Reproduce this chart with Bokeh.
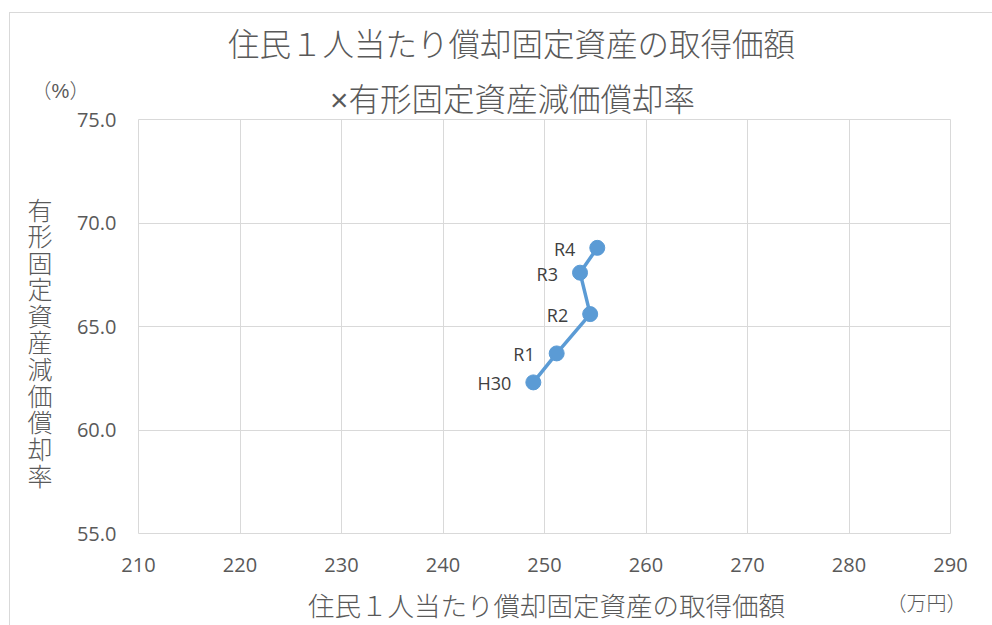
from bokeh.plotting import figure
from bokeh.models import (ColumnDataSource, Range1d, FixedTicker, PrintfTickFormatter,
                          LabelSet, Label, LinearAxis)
from bokeh.core.properties import value
from bokeh.embed import file_html
from bokeh.resources import INLINE

# ---- data ----
years = ["H30", "R1", "R2", "R3", "R4"]
asset_per_capita = [248.9, 251.2, 254.5, 253.5, 255.2]      # 万円
depreciation_rate = [62.3, 63.7, 65.6, 67.6, 68.8]           # %
x_ticks = [210, 220, 230, 240, 250, 260, 270, 280, 290]
y_ticks = [55, 60, 65, 70, 75]

title_line1 = "住民１人当たり償却固定資産の取得価額"
title_line2 = "×有形固定資産減価償却率"
x_title = "住民１人当たり償却固定資産の取得価額"
y_title = "有形固定資産減価償却率"
y_unit = "（%）"
x_unit = "（万円）"

JP = "Noto Sans CJK JP Light, Noto Sans CJK JP"
JPL = "Liberation Sans, Noto Sans CJK JP Light, Noto Sans CJK JP"   # compact line metrics
NUM = "Open Sans"
GRAY = "#595959"
GRID = "#d9d9d9"
BLUE = "#5B9BD5"

X0, X1, Y0, Y1 = 210, 290, 55, 75
FL, FT, FW, FH = 138, 119, 812, 414   # plot area placement on the page
W, H = 992, 625

def fx(px):
    return X0 + (px - FL) * (X1 - X0) / FW

def fy(py):
    return Y1 - (py - FT) * (Y1 - Y0) / FH

src = ColumnDataSource(dict(x=asset_per_capita, y=depreciation_rate, t=years))

p = figure(width=W, height=H, output_backend="svg", toolbar_location=None,
           x_range=Range1d(X0, X1), y_range=Range1d(Y0, Y1),
           min_border_left=FL, min_border_right=W - FL - FW,
           min_border_top=FT, min_border_bottom=H - FT - FH,
           background_fill_color="white", border_fill_color=None)
p.styles = {
    "background-color": "white",
    "background-image": "linear-gradient(#d9d9d9, #d9d9d9), linear-gradient(#d9d9d9, #d9d9d9)",
    "background-size": "100% 1px, 1px 100%",
    "background-position": "9px 12px, 9px 12px",
    "background-repeat": "no-repeat",
}
p.outline_line_color = GRID
p.outline_line_width = 1

p.xaxis.ticker = FixedTicker(ticks=x_ticks)
p.yaxis.ticker = FixedTicker(ticks=y_ticks)
p.xaxis.formatter = PrintfTickFormatter(format="%d")
p.yaxis.formatter = PrintfTickFormatter(format="%.1f")
for ax in (p.xaxis, p.yaxis):
    ax.axis_line_color = None
    ax.major_tick_line_color = None
    ax.minor_tick_line_color = None
    ax.major_tick_out = 0
    ax.major_tick_in = 0
    ax.major_label_text_font = NUM
    ax.major_label_text_font_size = "20px"
    ax.major_label_text_color = GRAY
p.xaxis.major_label_standoff = 24
p.yaxis.major_label_standoff = 22

# y axis title: upright characters stacked in a column
y_char_pos = [round(fy(208 + i * 26.6), 2) for i in range(len(y_title))]
ax_title = LinearAxis(ticker=FixedTicker(ticks=y_char_pos),
                      major_label_overrides={t: ch for t, ch in zip(y_char_pos, y_title)},
                      axis_line_color=None, major_tick_line_color=None,
                      minor_tick_line_color=None, major_tick_out=0, major_tick_in=0,
                      major_label_standoff=21, major_label_text_font=JP,
                      major_label_text_font_size="25px", major_label_text_color=GRAY)
p.add_layout(ax_title, "left")

p.xgrid.grid_line_color = GRID
p.ygrid.grid_line_color = GRID

p.line("x", "y", source=src, line_width=3.5, line_color=BLUE)
p.scatter("x", "y", source=src, size=15, fill_color=BLUE, line_color=BLUE)

p.add_layout(LabelSet(x="x", y="y", text="t", source=src, text_align="right",
                      text_baseline="middle", x_offset=-22, y_offset=-1,
                      text_font=value(NUM), text_font_size="18px", text_color="#404040"))

def side_label(px_, py_, txt, size, place):
    p.add_layout(Label(x=fx(px_), y=fy(py_), text=txt, text_font=JPL, text_font_size=size,
                       text_color=GRAY, text_align="center", text_baseline="middle"), place)

# texts outside the plot area live in side panels so they are not clipped
side_label(511, 44, title_line1, "31.5px", "above")
side_label(512, 99, title_line2, "31.5px", "above")
side_label(60, 90, y_unit, "20px", "above")
side_label(926, 603, x_unit, "20px", "above")
side_label(546, 606, x_title, "26.5px", "below")

open("out.html", "w").write(file_html(p, INLINE))
